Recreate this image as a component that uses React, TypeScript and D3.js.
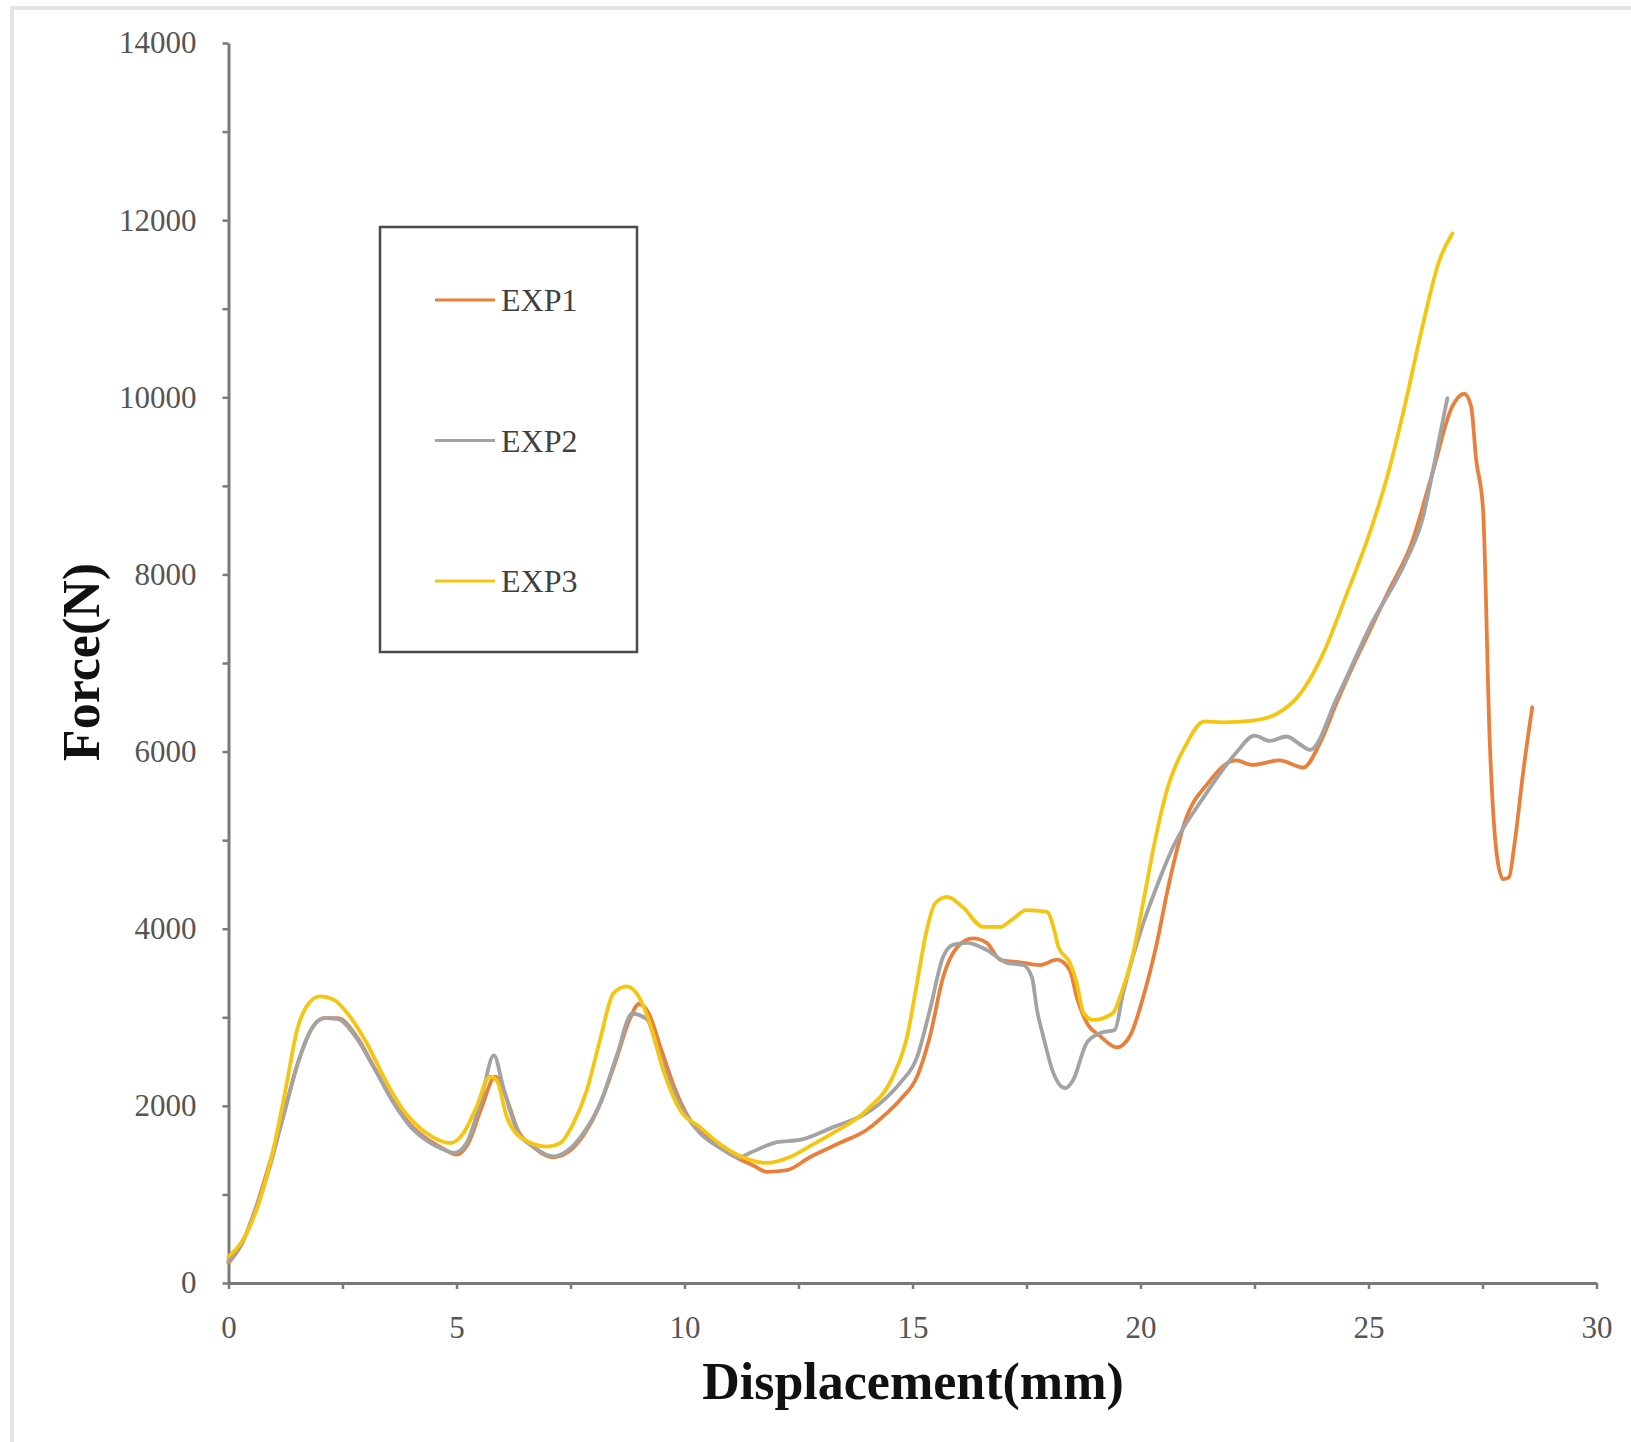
import React, { useRef, useEffect } from "react";
import * as d3 from "d3";

// displacement (mm), force (N)
const exp1: [number, number][] = [
  [0, 230], [0.3, 450], [0.6, 850], [0.9, 1350], [1.2, 1880], [1.5, 2450], [1.8, 2850],
  [2.1, 2990], [2.4, 2990], [2.8, 2790], [3.2, 2430], [3.6, 2060], [4.0, 1780], [4.4, 1610],
  [4.7, 1520], [5.0, 1450], [5.25, 1570], [5.55, 1980], [5.85, 2330], [6.05, 2150], [6.35, 1720],
  [6.7, 1530], [7.1, 1420], [7.45, 1480], [7.8, 1680], [8.15, 2020], [8.5, 2520], [8.8, 2980],
  [9.0, 3150], [9.2, 3060], [9.5, 2620], [9.8, 2180], [10.1, 1860], [10.4, 1680], [10.8, 1520],
  [11.2, 1400], [11.5, 1330], [11.8, 1255], [12.25, 1275], [12.75, 1420], [13.4, 1580], [14.0, 1730],
  [14.4, 1900], [14.75, 2080], [15.1, 2330], [15.38, 2780], [15.67, 3450], [15.98, 3790], [16.33, 3890],
  [16.63, 3840], [16.92, 3650], [17.36, 3620], [17.8, 3590], [18.17, 3650], [18.45, 3530], [18.6, 3230],
  [18.82, 2940], [19.11, 2790], [19.48, 2660], [19.78, 2800], [20.06, 3230], [20.36, 3840], [20.6, 4450],
  [20.97, 5200], [21.49, 5650], [22.09, 5900], [22.46, 5850], [23.05, 5900], [23.57, 5820], [23.94, 6100],
  [24.3, 6550], [24.69, 7000], [25.06, 7400], [25.43, 7800], [25.95, 8360], [26.4, 9140], [26.84, 9900],
  [27.1, 10040], [27.25, 9900], [27.36, 9300], [27.51, 8750], [27.66, 6100], [27.81, 4850], [27.95, 4560],
  [28.08, 4580], [28.2, 4950], [28.4, 5800], [28.59, 6500],
];

const exp2: [number, number][] = [
  [0, 250], [0.3, 460], [0.6, 830], [0.9, 1300], [1.2, 1880], [1.57, 2560], [1.86, 2900],
  [2.1, 2990], [2.4, 2980], [2.8, 2770], [3.2, 2420], [3.6, 2050], [4.0, 1760], [4.4, 1590],
  [4.7, 1510], [4.95, 1470], [5.22, 1580], [5.52, 2030], [5.82, 2570], [6.03, 2200], [6.32, 1730],
  [6.68, 1540], [7.12, 1430], [7.42, 1490], [7.78, 1690], [8.15, 2030], [8.51, 2560], [8.85, 3040],
  [9.17, 2980], [9.46, 2560], [9.75, 2180], [10.05, 1880], [10.34, 1690], [10.8, 1520], [11.2, 1420],
  [11.44, 1470], [11.75, 1540], [12.03, 1590], [12.53, 1615], [13.26, 1760], [14.0, 1920], [14.4, 2080],
  [14.73, 2260], [15.1, 2550], [15.38, 3080], [15.67, 3680], [15.9, 3820], [16.2, 3840], [16.63, 3760],
  [17.07, 3615], [17.43, 3590], [17.62, 3450], [17.73, 3085], [17.87, 2780], [18.09, 2370], [18.35, 2200],
  [18.52, 2290], [18.82, 2710], [19.11, 2820], [19.44, 2860], [19.6, 3230], [20.06, 4060], [20.3, 4400],
  [20.75, 4960], [21.34, 5450], [22.09, 5980], [22.5, 6180], [22.83, 6120], [23.2, 6170], [23.5, 6080],
  [23.72, 6020], [24.32, 6620], [25.06, 7440], [25.8, 8130], [26.17, 8600], [26.55, 9530], [26.73, 9990],
];

const exp3: [number, number][] = [
  [0, 300], [0.32, 490], [0.69, 940], [0.98, 1500], [1.28, 2260], [1.5, 2850], [1.71, 3120],
  [2.0, 3235], [2.3, 3200], [2.66, 3010], [3.03, 2710], [3.47, 2260], [3.83, 1955], [4.35, 1690],
  [4.86, 1580], [5.15, 1690], [5.44, 1990], [5.73, 2330], [5.88, 2290], [6.1, 1880], [6.39, 1650],
  [6.98, 1540], [7.27, 1580], [7.56, 1800], [7.86, 2180], [8.15, 2750], [8.44, 3270], [8.73, 3350],
  [8.95, 3270], [9.24, 2935], [9.53, 2410], [9.9, 1955], [10.34, 1760], [10.8, 1560], [11.28, 1420],
  [11.8, 1356], [12.3, 1420], [12.8, 1560], [13.26, 1695], [14.0, 1955], [14.57, 2330], [14.88, 2780],
  [15.1, 3390], [15.3, 3955], [15.5, 4290], [15.76, 4360], [16.1, 4245], [16.55, 4020], [16.92, 4020],
  [17.15, 4090], [17.5, 4210], [17.95, 4190], [18.09, 4020], [18.2, 3795], [18.45, 3615], [18.6, 3390],
  [18.75, 3050], [18.97, 2970], [19.4, 3050], [19.55, 3230], [19.84, 3725], [20.06, 4300], [20.3, 4950],
  [20.6, 5600], [21.0, 6080], [21.4, 6340], [21.8, 6330], [22.46, 6350], [23.0, 6430], [23.5, 6650],
  [24.0, 7100], [24.5, 7750], [25.06, 8520], [25.43, 9140], [25.8, 9915], [26.17, 10770], [26.55, 11540],
  [26.84, 11850],
];

const seriesNames = ["EXP1", "EXP2", "EXP3"];
const seriesColors = ["#E8803C", "#A3A3A3", "#F4C612"];
const xMinorTicks = d3.range(0, 30.01, 2.5);
const yMinorTicks = d3.range(0, 14001, 1000);

export default function App() {
  const ref = useRef<SVGSVGElement>(null);

  useEffect(() => {
    const width = 1631;
    const height = 1442;
    const serif = "'Liberation Serif', 'Times New Roman', serif";

    const svg = d3.select(ref.current);
    svg.selectAll("*").remove();
    svg.attr("width", width).attr("height", height);

    svg.append("rect").attr("width", width).attr("height", height).attr("fill", "#fff");

    // faint frame of the original picture
    svg.append("path")
      .attr("d", `M12,${height} V8 H${width}`)
      .attr("fill", "none")
      .attr("stroke", "#e4e4e4")
      .attr("stroke-width", 4);

    const x = d3.scaleLinear().domain([0, 30]).range([228.5, 1596.5]);
    const y = d3.scaleLinear().domain([0, 14000]).range([1283, 43]);

    // y axis
    const yAxis = svg.append("g")
      .attr("transform", `translate(${x(0)},0)`)
      .call(
        d3.axisLeft(y)
          .tickValues(yMinorTicks)
          .tickSize(6)
          .tickSizeOuter(0)
          .tickPadding(26)
          .tickFormat((d) => ((d as number) % 2000 === 0 ? String(d) : ""))
      );

    // x axis
    const xAxis = svg.append("g")
      .attr("transform", `translate(0,${y(0)})`)
      .call(
        d3.axisBottom(x)
          .tickValues(xMinorTicks)
          .tickSize(6)
          .tickSizeOuter(0)
          .tickPadding(27)
          .tickFormat((d) => ((d as number) % 5 === 0 ? String(d) : ""))
      );

    [yAxis, xAxis].forEach((g) => {
      g.select(".domain").attr("stroke", "#7a7a7a").attr("stroke-width", 3);
      g.selectAll(".tick line").attr("stroke", "#7a7a7a").attr("stroke-width", 2.5);
      g.selectAll(".tick text")
        .attr("fill", "#555")
        .style("font-family", serif)
        .style("font-size", "31px");
    });

    // curves
    const line = d3.line<[number, number]>()
      .x((d) => x(d[0]))
      .y((d) => y(d[1]))
      .curve(d3.curveMonotoneX);

    [exp1, exp2, exp3].forEach((data, i) => {
      svg.append("path")
        .datum(data)
        .attr("d", line)
        .attr("fill", "none")
        .attr("stroke", seriesColors[i])
        .attr("stroke-width", 3.8)
        .attr("stroke-linejoin", "round")
        .attr("stroke-linecap", "round");
    });

    // legend
    const legend = svg.append("g");
    legend.append("rect")
      .attr("x", 380)
      .attr("y", 227)
      .attr("width", 257)
      .attr("height", 425)
      .attr("fill", "#fff")
      .attr("stroke", "#4a4a4a")
      .attr("stroke-width", 2.5);

    const legendY = d3.scalePoint<string>().domain(seriesNames).range([300, 581]);
    seriesNames.forEach((name, i) => {
      const ly = legendY(name) as number;
      legend.append("line")
        .attr("x1", 435)
        .attr("x2", 495)
        .attr("y1", ly)
        .attr("y2", ly)
        .attr("stroke", seriesColors[i])
        .attr("stroke-width", 3);
      legend.append("text")
        .attr("x", 501)
        .attr("y", ly + 11)
        .attr("fill", "#404040")
        .style("font-family", serif)
        .style("font-size", "32px")
        .text(name);
    });

    // axis titles
    svg.append("text")
      .attr("x", 913)
      .attr("y", 1399)
      .attr("text-anchor", "middle")
      .attr("fill", "#111")
      .style("font-family", serif)
      .style("font-weight", 700)
      .style("font-size", "52px")
      .text("Displacement(mm)");

    svg.append("text")
      .attr("transform", `translate(99,662) rotate(-90)`)
      .attr("text-anchor", "middle")
      .attr("fill", "#111")
      .style("font-family", serif)
      .style("font-weight", 700)
      .style("font-size", "52px")
      .text("Force(N)");
  }, []);

  return <svg ref={ref} style={{ position: "absolute", left: 0, top: 0 }}></svg>;
}
